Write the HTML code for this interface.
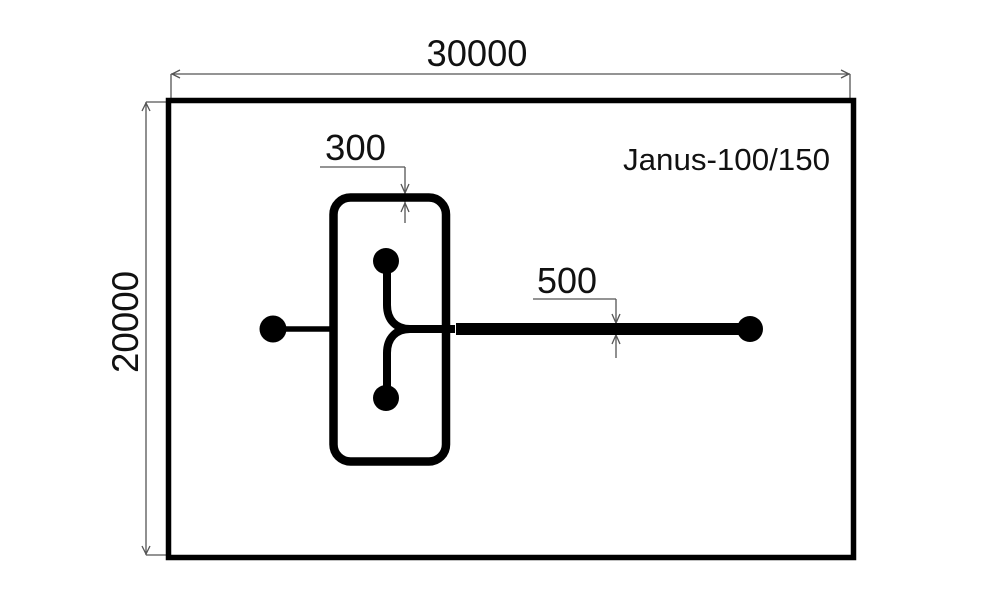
<!DOCTYPE html>
<html><head><meta charset="utf-8"><style>
html,body{margin:0;padding:0;background:#fff;}
svg{display:block;}
text{font-family:"Liberation Sans",sans-serif;fill:#111;}
</style></head><body>
<svg width="1000" height="611" viewBox="0 0 1000 611" xmlns="http://www.w3.org/2000/svg">
<rect width="1000" height="611" fill="#fff"/>
<!-- dimension 30000 -->
<g stroke="#555" stroke-width="1.3" fill="none">
<line x1="171" y1="74" x2="850" y2="74"/>
<line x1="171" y1="74" x2="171" y2="99"/>
<line x1="850" y1="74" x2="850" y2="99"/>
<polyline points="180,70 172,74 180,78"/>
<polyline points="841,70 849,74 841,78"/>
<!-- dimension 20000 -->
<line x1="146" y1="102" x2="146" y2="555"/>
<line x1="146" y1="102" x2="167" y2="102"/>
<line x1="146" y1="555" x2="167" y2="555"/>
<polyline points="142,111 146,103 150,111"/>
<polyline points="142,546 146,554 150,546"/>
<!-- 300 leader -->
<line x1="320" y1="167" x2="405" y2="167"/>
<line x1="405" y1="167" x2="405" y2="223"/>
<polyline points="401,184 405,193 409,184"/>
<polyline points="401,212 405,203 409,212"/>
<!-- 500 leader -->
<line x1="533" y1="299" x2="616" y2="299"/>
<line x1="616" y1="299" x2="616" y2="358"/>
<polyline points="612,314 616,323 620,314"/>
<polyline points="612,344 616,335 620,344"/>
</g>
<!-- main rect -->
<rect x="168.5" y="100.5" width="685" height="457" fill="none" stroke="#000" stroke-width="5.5"/>
<!-- texts -->
<text x="477" y="66" font-size="37" text-anchor="middle" textLength="101" lengthAdjust="spacingAndGlyphs">30000</text>
<text x="0" y="0" font-size="37" text-anchor="middle" textLength="102" lengthAdjust="spacingAndGlyphs" transform="translate(138,322) rotate(-90)">20000</text>
<text x="325" y="160" font-size="36" textLength="61" lengthAdjust="spacingAndGlyphs">300</text>
<text x="537" y="293" font-size="36" textLength="60" lengthAdjust="spacingAndGlyphs">500</text>
<text x="623" y="170" font-size="31" textLength="207" lengthAdjust="spacingAndGlyphs">Janus-100/150</text>
<!-- chip body -->
<rect x="333.5" y="197.5" width="112.5" height="264" rx="17" ry="17" fill="none" stroke="#000" stroke-width="8.5"/>
<!-- left inlet -->
<line x1="273" y1="329" x2="334" y2="329" stroke="#000" stroke-width="5.5"/>
<circle cx="273" cy="329" r="13.5" fill="#000"/>
<!-- Y junction -->
<g stroke="#000" stroke-width="8" fill="none" stroke-linecap="butt">
<path d="M387,262 L387,305 C387,320 396,329 410,329"/>
<path d="M387,397 L387,353 C387,338 396,329 410,329"/>
<line x1="402" y1="329" x2="455" y2="329"/>
</g>
<circle cx="386" cy="261" r="13" fill="#000"/>
<circle cx="386" cy="398" r="13" fill="#000"/>
<!-- outlet channel -->
<rect x="456" y="323" width="294" height="12" fill="#000"/>
<circle cx="750" cy="329" r="13" fill="#000"/>
</svg>
</body></html>
